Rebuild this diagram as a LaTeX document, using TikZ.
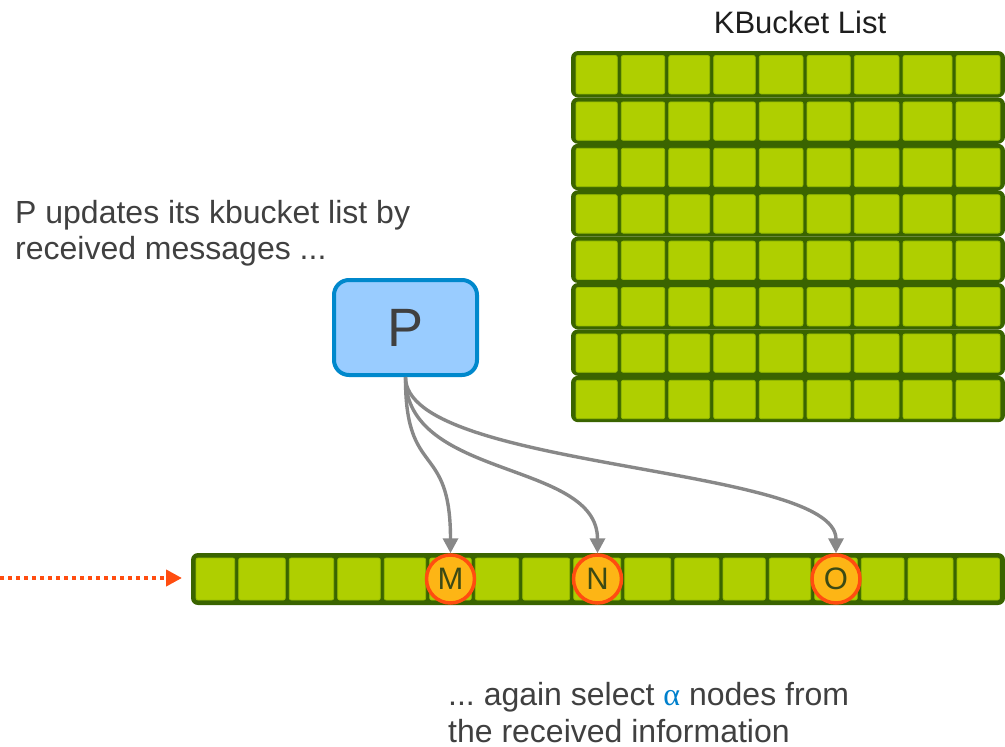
\documentclass[tikz,border=0pt]{standalone}
\usepackage{fontspec}
\setmainfont{Liberation Sans}
\newfontfamily\greekfont{Liberation Serif}
\usetikzlibrary{arrows.meta}
\frenchspacing

\definecolor{cellgreen}{HTML}{AFCF00}
\definecolor{rimgreen}{HTML}{96BC00}
\definecolor{darkgreen}{HTML}{3A6400}
\definecolor{pfill}{HTML}{99CCFF}
\definecolor{pline}{HTML}{0088CC}
\definecolor{hitfill}{HTML}{FDB515}
\definecolor{hitline}{HTML}{FF4D10}
\definecolor{hittext}{HTML}{3C4A14}
\definecolor{textgray}{HTML}{404040}
\definecolor{titleblack}{HTML}{1E1E1E}
\definecolor{linkgray}{HTML}{888888}
\definecolor{alphablue}{HTML}{0080CC}

\tikzset{
  cellbox/.style={fill=cellgreen, draw=rimgreen, line width=0.8pt, rounded corners=2pt},
  rowbox/.style={fill=darkgreen, rounded corners=7pt},
  peer/.style={draw=pline, fill=pfill, line width=4pt, rounded corners=15pt,
    minimum width=143pt, minimum height=95pt, inner sep=0pt,
    text=textgray, font=\fontsize{54}{60}\selectfont},
  hit/.style={circle, draw=hitline, fill=hitfill, line width=3.5pt,
    minimum size=48pt, inner sep=0pt, text=hittext,
    font=\fontsize{31}{34}\selectfont},
  link/.style={draw=linkgray, line width=3.4pt,
    -{Triangle[length=15pt,width=15pt]}},
  feedline/.style={draw=hitline, line width=4pt, dash pattern=on 4pt off 4pt,
    -{Triangle[length=16pt,width=16pt]}},
  note/.style={anchor=base west, inner sep=0pt, text=textgray,
    font=\fontsize{32}{36}\selectfont},
}

\begin{document}
\begin{tikzpicture}[x=1pt, y=-1pt]
\useasboundingbox (0,0) rectangle (1005,747);
\clip (0,0) rectangle (1005,747);

% KBucket list: eight rows of nine buckets
\foreach \r in {0,...,7} {
  \pgfmathsetmacro\ya{51+46.4*\r}
  \pgfmathsetmacro\yb{\ya+46.4}
  \fill[rowbox] (571,\ya) rectangle (1005,\yb);
  \foreach \a/\b in {576/617.3, 621.3/664.7, 668.7/709.7, 713.7/755.3,
                     759.3/803, 807/850.3, 854.3/899, 903/952, 956/1000}
    \draw[cellbox] (\a,\ya+4.5) rectangle (\b,\yb-3.5);
}
\node[anchor=base, inner sep=0pt, text=titleblack,
      font=\fontsize{31}{36}\selectfont] (title) at (800,33) {KBucket List};

% received list
\fill[rowbox] (191,553) rectangle (1005,605);
\foreach \a/\b in {196/234.7, 238.7/285.3, 289.3/333.7, 337.7/380.3,
                   384.3/425.7, 429.7/471.3, 475.3/518.7, 522.7/569.7,
                   573.7/620.7, 624.7/670.7, 674.7/719, 723/765.3,
                   769.3/810.7, 814.7/857.3, 861.3/904, 908/953, 957/999.5}
  \draw[cellbox] (\a,558) rectangle (\b,600);

\coordinate (feed) at (0,578);
\coordinate (feedtip) at (182,578);
\draw[feedline] (feed) -- (feedtip);

% peer and selected nodes
\node[peer] (P) at (405.5,327.5) {P};
\node[hit] (M) at (450.5,579) {M};
\node[hit] (N) at (597.5,579) {N};
\node[hit] (O) at (836,579) {O};

\draw[link] (P.south) .. controls (405,480) and (450.5,440) .. (M.north);
\draw[link] (P.south) .. controls (405,480) and (597.5,460) .. (N.north);
\draw[link] (P.south) .. controls (405,470) and (836,465) .. (O.north);

% captions
\node[note] (upd1) at (15,223) {P updates its kbucket list by};
\node[note] (upd2) at (15,259) {received messages ...};
\node[note] (sel1) at (448,705) {... again select {\greekfont\color{alphablue}α} nodes from};
\node[note] (sel2) at (448,742) {the received information};
\end{tikzpicture}
\end{document}
